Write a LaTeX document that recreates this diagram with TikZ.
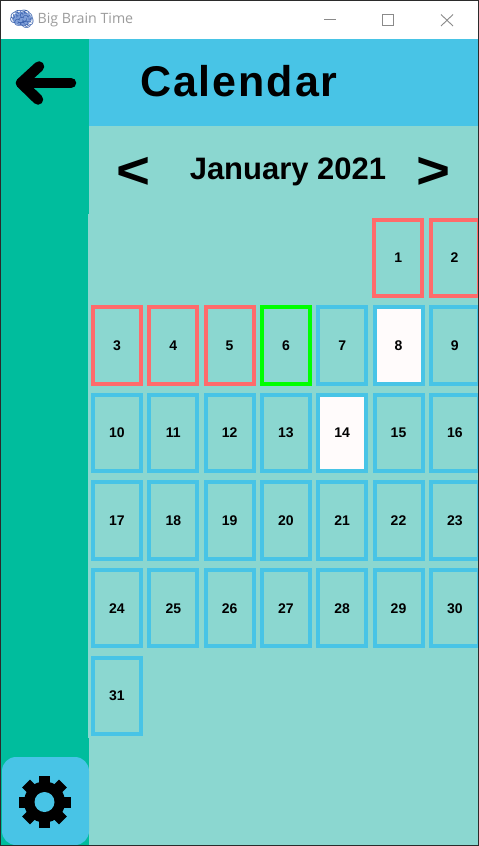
\documentclass[tikz,border=0pt]{standalone}
\usepackage{xcolor}
\usepackage{fontspec}
\setmainfont{Liberation Sans}
\newfontfamily\titlefont{Open Sans}
\newfontfamily\emojifont{Noto Emoji}
\newfontfamily\headfont[LetterSpace=4.5]{Liberation Sans}
\usetikzlibrary{positioning}
\definecolor{sidegreen}{HTML}{00BD9D}
\definecolor{headblue}{HTML}{48C4E6}
\definecolor{panelteal}{HTML}{8BD7D0}
\definecolor{dayred}{HTML}{FF6B6B}
\definecolor{daylime}{HTML}{00FF00}
\definecolor{daypick}{HTML}{FFFBFB}
\definecolor{winframe}{HTML}{2B2B2B}
\definecolor{wingray}{HTML}{8A8A8A}
\definecolor{titlegray}{HTML}{9C9C9C}
\definecolor{brainblue}{HTML}{7F9FD8}
\definecolor{brainline}{HTML}{3F66B0}
\tikzset{
  daybox/.style={rectangle, draw=headblue, line width=4pt, inner sep=0pt,
    minimum width=48pt, minimum height=76.5pt, font=\fontsize{14}{14}\selectfont\bfseries},
  dayover/.style={daybox, draw=dayred},
  daytoday/.style={daybox, draw=daylime},
  daymark/.style={daybox, fill=daypick},
  heading/.style={inner sep=0pt, text=black, font=\fontsize{43}{43}\selectfont\headfont\bfseries},
  monthname/.style={inner sep=0pt, text=black, font=\fontsize{31}{31}\selectfont\bfseries},
  monthnav/.style={inner sep=0pt, text=black, xscale=1.12, font=\fontsize{52}{52}\selectfont\bfseries},
  winctl/.style={draw=wingray, line width=0.9pt},
  backarrow/.style={draw=black, line width=10.5pt, line cap=round, line join=round},
}

\begin{document}
\begin{tikzpicture}[x=1pt, y=-1pt]
\useasboundingbox (0,0) rectangle (479,846);
% window background
\fill[white] (0,0) rectangle (479,39);
\fill[panelteal] (89,39) rectangle (479,846);
\fill[sidegreen] (0,39) rectangle (89,846);
\fill[panelteal] (88,214) rectangle (89,738);
\fill[headblue] (89,39) rectangle (479,126);
% title bar
\fill[brainblue] (22,18.5) ellipse[x radius=9.5, y radius=7];
\node[inner sep=0pt, text=brainline, font=\fontsize{21}{21}\selectfont\emojifont] (brain) at (22,19) {^^^^^^01f9e0};
\node[inner sep=0pt, anchor=west, text=titlegray, font=\fontsize{14.2}{15}\selectfont\titlefont] (wintitle) at (37.5,20) {Big Brain Time};
\draw[winctl] (324,19.5) -- (336,19.5);
\draw[winctl] (382.5,14.5) rectangle (393.5,25.5);
\draw[winctl] (441,14.5) -- (453,26);
\draw[winctl] (453,14.5) -- (441,26);
% heading
\node[heading, anchor=base west] (calendar) at (140,96) {Calendar};
\node[monthname, anchor=base] (month) at (288,179) {January 2021};
\node[monthnav, anchor=base] (prev) at (133.5,188) {<};
\node[monthnav, anchor=base] (next) at (433.5,188) {>};
% days
\begin{scope}[node distance=7.1pt and 4.3pt]
\node[dayover] (d1) at (398.3,257.8) {1};
\node[dayover, right=of d1] (d2) {2};
\node[dayover] (d3) at (117,345.4) {3};
\node[dayover, right=of d3] (d4) {4};
\node[dayover, right=of d4] (d5) {5};
\node[daytoday, right=of d5] (d6) {6};
\node[daybox, right=of d6] (d7) {7};
\node[daymark, right=of d7] (d8) {8};
\node[daybox, right=of d8] (d9) {9};
\node[daybox, below=of d3] (d10) {10};
\node[daybox, right=of d10] (d11) {11};
\node[daybox, right=of d11] (d12) {12};
\node[daybox, right=of d12] (d13) {13};
\node[daymark, right=of d13] (d14) {14};
\node[daybox, right=of d14] (d15) {15};
\node[daybox, right=of d15] (d16) {16};
\node[daybox, below=of d10] (d17) {17};
\node[daybox, right=of d17] (d18) {18};
\node[daybox, right=of d18] (d19) {19};
\node[daybox, right=of d19] (d20) {20};
\node[daybox, right=of d20] (d21) {21};
\node[daybox, right=of d21] (d22) {22};
\node[daybox, right=of d22] (d23) {23};
\node[daybox, below=of d17] (d24) {24};
\node[daybox, right=of d24] (d25) {25};
\node[daybox, right=of d25] (d26) {26};
\node[daybox, right=of d26] (d27) {27};
\node[daybox, right=of d27] (d28) {28};
\node[daybox, right=of d28] (d29) {29};
\node[daybox, right=of d29] (d30) {30};
\node[daybox, below=of d24] (d31) {31};
\end{scope}
% back arrow
\draw[backarrow] (71,83) -- (21,83);
\draw[backarrow] (39,66.5) -- (21,83) -- (38,99.5);
% settings button
\fill[headblue, rounded corners=14pt] (2,757) rectangle (89,845);
\foreach \a in {0,45,...,315} {
  \fill[black, rotate around={\a:(44.5,802)}] (39,776) rectangle (50,790);
}
\fill[black] (44.5,802) circle[radius=20.5];
\fill[headblue] (44.5,802) circle[radius=10];
% window frame
\draw[winframe, line width=2pt] (0,0) rectangle (478.5,846);
\end{tikzpicture}
\end{document}
